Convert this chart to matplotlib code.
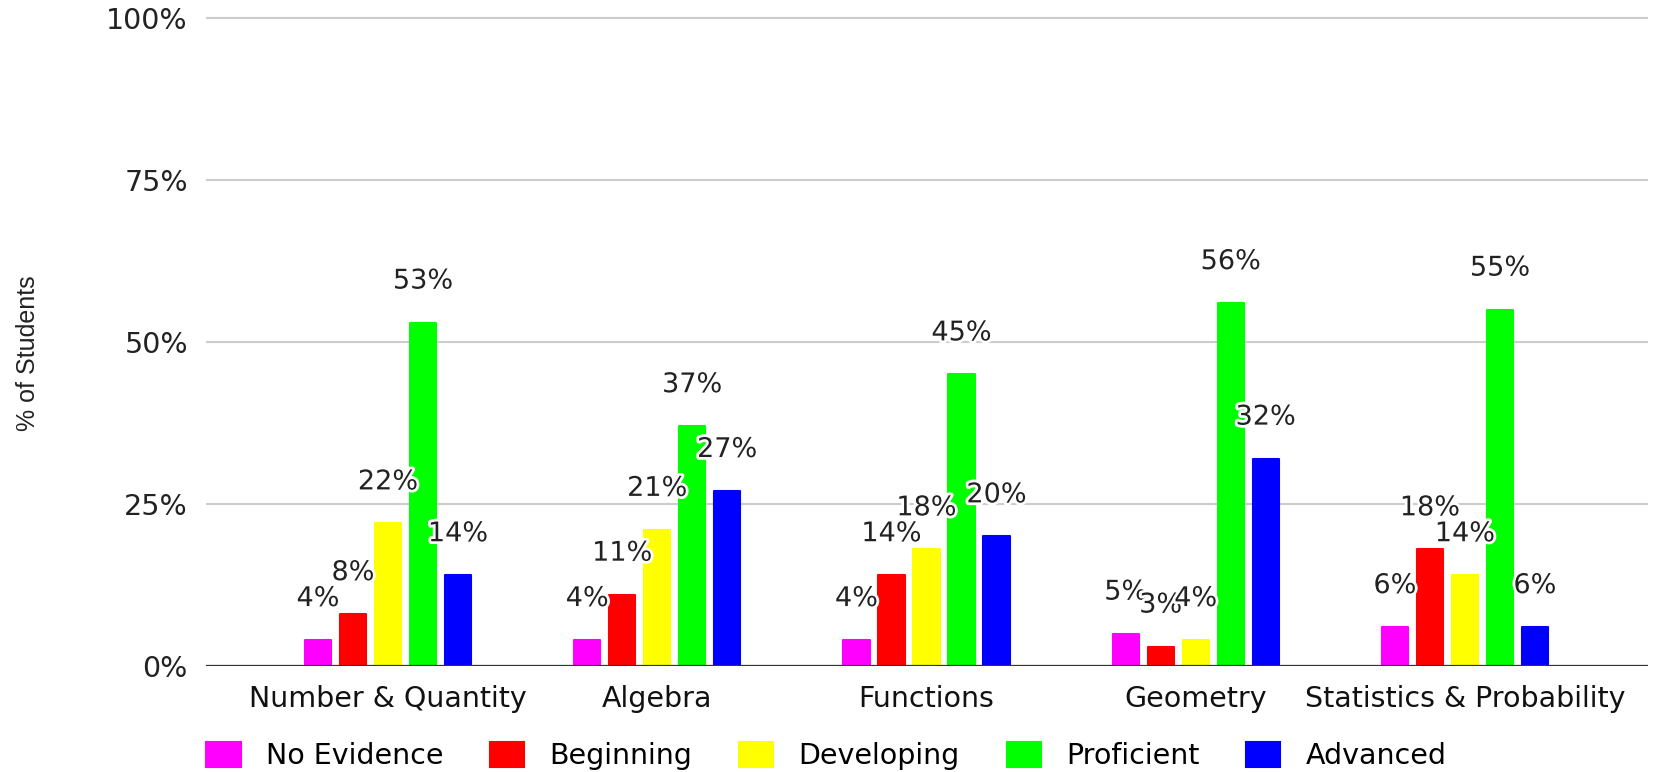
import numpy as np
import matplotlib
matplotlib.use('Agg')
import matplotlib.pyplot as plt
import matplotlib.ticker as ticker
import matplotlib.patheffects as pe

categories = ['Number & Quantity', 'Algebra', 'Functions', 'Geometry', 'Statistics & Probability']
levels = ['No Evidence', 'Beginning', 'Developing', 'Proficient', 'Advanced']
no_evidence = [4, 4, 4, 5, 6]
beginning = [8, 11, 14, 3, 18]
developing = [22, 21, 18, 4, 14]
proficient = [53, 37, 45, 56, 55]
advanced = [14, 27, 20, 32, 6]
colors = ['#ff00ff', '#ff0000', '#ffff00', '#00ff00', '#0000ff']

series = [no_evidence, beginning, developing, proficient, advanced]

plt.rcParams['font.family'] = 'DejaVu Sans'
W, H = 1653, 772
fig = plt.figure(figsize=(W / 100, H / 100), dpi=100)
# plot area in pixels: x 206..1648, 0% at y=666, 100% at y=18
ax = fig.add_axes([206 / W, 1 - 666 / H, 1442 / W, 648 * 1.01 / H])

x = np.arange(len(categories))
pitch = 0.13
width = 0.098

for i, (vals, name, col) in enumerate(zip(series, levels, colors)):
    pos = x + (i - 2) * pitch
    ax.bar(pos, vals, width, color=col, edgecolor=col, linewidth=1.5,
           joinstyle='round', label=name, zorder=2)
    for xp, v in zip(pos, vals):
        t = ax.annotate(f'{v}%', (xp, v), xytext=(0, 24.5), textcoords='offset points',
                        ha='center', va='baseline', fontsize=19.5, color='#222222', zorder=4)
        t.set_path_effects([pe.withStroke(linewidth=4, foreground='white')])

ax.set_xlim(-0.676, 4.68)
ax.set_ylim(0, 101)
ax.set_yticks([0, 25, 50, 75, 100])
ax.yaxis.set_major_formatter(ticker.PercentFormatter(xmax=100, decimals=0))
ax.set_xticks(x)
ax.set_xticklabels(categories)
ax.tick_params(axis='y', length=0, pad=13, labelsize=20.5, labelcolor='#222222')
ax.tick_params(axis='x', length=0, pad=13.5, labelsize=20.5, labelcolor='#111111')

for s in ax.spines.values():
    s.set_visible(False)
ax.grid(axis='y', color='#cccccc', linewidth=1.5, zorder=0)
ax.set_axisbelow(True)
ax.axhline(0, color='#333333', linewidth=1.6, zorder=3)

ax.set_ylabel('% of Students', fontsize=18, color='#222222',
              family='Liberation Sans', va='center')
ax.yaxis.set_label_coords(-0.1231, 0.478)

fig.legend(loc='center', bbox_to_anchor=(0.5, 1 - 756 / H), ncol=5, frameon=False,
           fontsize=20.5, handlelength=1.2, handleheight=0.98, handletextpad=0.88,
           columnspacing=1.65, borderpad=0, borderaxespad=0)

fig.savefig('out.png', dpi=100)
